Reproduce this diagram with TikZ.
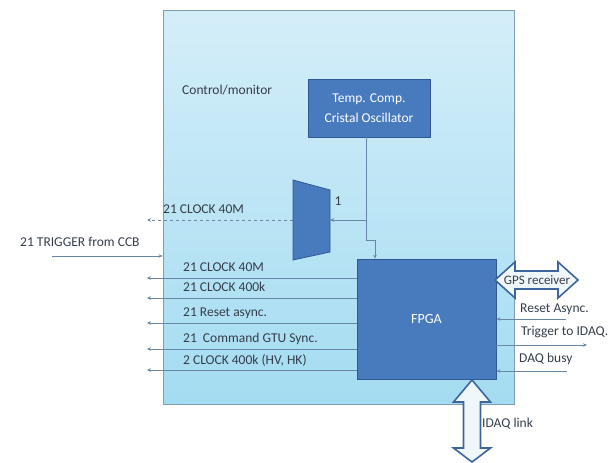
\documentclass[tikz,border=0pt]{standalone}
\usepackage{fontspec}
\setmainfont{Carlito}
\usepackage{tikz}
\usetikzlibrary{calc, arrows.meta}

\definecolor{paneltop}{RGB}{212,238,249}
\definecolor{panelbot}{RGB}{164,220,241}
\definecolor{panelline}{RGB}{128,158,178}
\definecolor{blkfill}{RGB}{72,122,190}
\definecolor{blkline}{RGB}{48,88,148}
\definecolor{sigline}{RGB}{104,134,166}
\definecolor{lbltext}{RGB}{52,62,74}
\definecolor{fatline}{RGB}{62,100,158}
\definecolor{fatfill}{RGB}{240,247,251}

\tikzset{
  sig/.style={draw=sigline,line width=0.7pt},
  blk/.style={draw=blkline,fill=blkfill,line width=0.8pt,text=white,inner sep=0pt},
  lbl/.style={text=lbltext,inner sep=0pt},
  fat/.style={draw=fatline,fill=fatfill,line width=1.6pt,line join=miter}
}

\begin{document}
\begin{tikzpicture}[x=1pt,y=-1pt,>={Stealth[length=4pt,width=3.5pt]},
  font=\fontsize{13.5}{15}\selectfont]
\useasboundingbox (0,0) rectangle (613,463);

% enclosure
\node[draw=panelline,top color=paneltop,bottom color=panelbot,line width=0.8pt,
  minimum width=351pt,minimum height=394pt,inner sep=0pt] (panel) at (338.5,207) {};
\node[lbl,anchor=west] (ctl) at (182,90) {Control/monitor};

% clock path
\coordinate (tap) at (366,220);
\coordinate (bend1) at (366,240);
\coordinate (bend2) at (375,240);
\coordinate (muxin) at (330,220);
\coordinate (muxout) at (293,220);
\coordinate (ck0) at (147,220);

\node[blk,minimum width=122pt,minimum height=58pt,align=center,
  font=\fontsize{13.5}{20}\selectfont] (osc) at (369,108) {Temp. Comp.\\Cristal Oscillator};
\node[blk,minimum width=139pt,minimum height=120pt,font=\fontsize{14}{16}\selectfont] (fpga) at (426.5,319) {FPGA};

\draw[sig,->] (osc.south -| tap) -- (bend1) -- (bend2) -- (bend2 |- fpga.north);
\draw[sig,->] (tap) -- (muxin);
\draw[sig,dashed,->] (muxout) -- (ck0);
\node[lbl,anchor=west] (lck0) at (163,209) {21 CLOCK 40M};

% multiplexer
\coordinate (mtl) at (293,180);
\coordinate (mtr) at (330,190);
\coordinate (mbr) at (330,252);
\coordinate (mbl) at (293,260);
\filldraw[fill=blkfill,draw=blkline,line width=0.8pt] (mtl) -- (mtr) -- (mbr) -- (mbl) -- cycle;
\node[lbl] (sel) at (338,201) {1};

% trigger in
\coordinate (trg) at (52,256);
\draw[sig,line width=1pt,->] (trg) -- (trg -| panel.west);
\node[lbl,anchor=west] (ltrg) at (20,242) {21 TRIGGER from CCB};

% outputs to the left
\coordinate (o1) at (147,278);
\coordinate (o2) at (147,298);
\coordinate (o3) at (147,323);
\coordinate (o4) at (147,349);
\coordinate (o5) at (147,370);
\draw[sig,->] (fpga.west |- o1) -- (o1);
\draw[sig,->] (fpga.west |- o2) -- (o2);
\draw[sig,->] (fpga.west |- o3) -- (o3);
\draw[sig,->] (fpga.west |- o4) -- (o4);
\draw[sig,->] (fpga.west |- o5) -- (o5);
\node[lbl,anchor=west] (lo1) at (183,267) {21 CLOCK 40M};
\node[lbl,anchor=west] (lo2) at (183,287) {21 CLOCK 400k};
\node[lbl,anchor=west] (lo3) at (183,313) {21 Reset async.};
\node[lbl,anchor=west] (lo4) at (183,339) {21 \ Command GTU Sync.};
\node[lbl,anchor=west] (lo5) at (183,360) {2 CLOCK 400k (HV, HK)};

% right side
\coordinate (rst) at (566,319);
\coordinate (tdaq) at (587,345);
\coordinate (busy) at (567,371);
\draw[sig,->] (rst) -- (rst -| fpga.east);
\draw[sig,->] (tdaq -| fpga.east) -- (tdaq);
\draw[sig,->] (busy) -- (busy -| fpga.east);
\node[lbl,anchor=west] (lrst) at (520,309) {Reset Async.};
\node[lbl,anchor=west] (ltdaq) at (521,332) {Trigger to IDAQ.};
\node[lbl,anchor=west] (lbusy) at (519,359) {DAQ busy};

% GPS link
\coordinate (gpsl) at (495,280);
\draw[fat] (gpsl) -- ++(20,-18) -- ++(0,9) -- ++(43,0) -- ++(0,-9) -- ++(20,18)
  -- ++(-20,18) -- ++(0,-9) -- ++(-43,0) -- ++(0,9) -- cycle;
\node[lbl,font=\fontsize{13}{15}\selectfont] (lgps) at (537,280) {GPS receiver};

% IDAQ link
\coordinate (daqt) at (472,380);
\draw[fat] (daqt) -- ++(18.5,22) -- ++(-10,0) -- ++(0,46) -- ++(10,0) -- ++(-18.5,14)
  -- ++(-18.5,-14) -- ++(10,0) -- ++(0,-46) -- ++(-10,0) -- cycle;
\node[lbl,anchor=west] (ldaq) at (482,424) {IDAQ link};
\end{tikzpicture}
\end{document}
